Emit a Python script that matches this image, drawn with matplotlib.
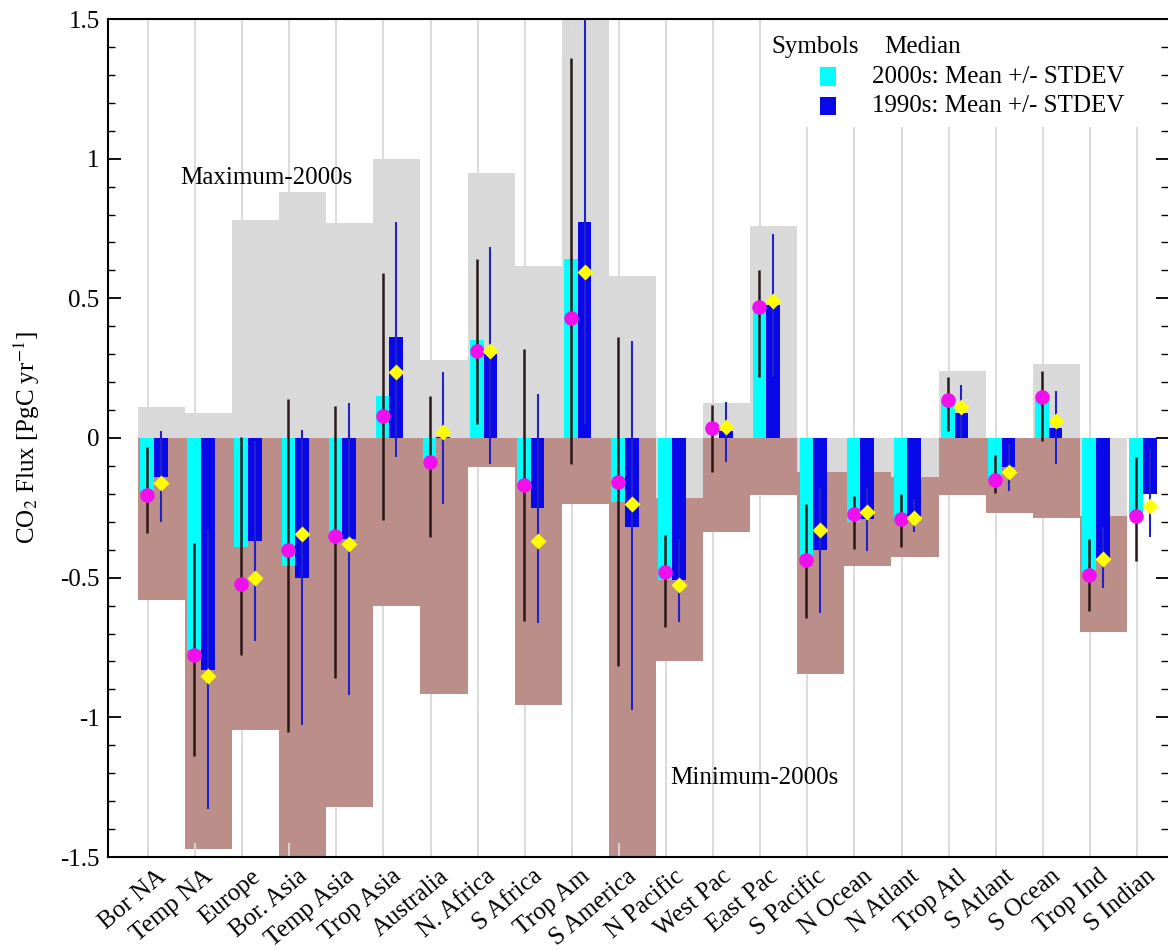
import numpy as np
import matplotlib
matplotlib.use('Agg')
import matplotlib.pyplot as plt
from matplotlib.patches import Rectangle
from matplotlib.ticker import MultipleLocator, FuncFormatter
from matplotlib.transforms import ScaledTranslation

plt.rcParams['font.family'] = ['Liberation Serif', 'DejaVu Serif']
plt.rcParams['mathtext.fontset'] = 'stix'
plt.rcParams['axes.unicode_minus'] = False

categories = ['Bor NA', 'Temp NA', 'Europe', 'Bor. Asia', 'Temp Asia', 'Trop Asia',
              'Australia', 'N. Africa', 'S Africa', 'Trop Am', 'S America', 'N Pacific',
              'West Pac', 'East Pac', 'S Pacific', 'N Ocean', 'N Atlant', 'Trop Atl',
              'S Atlant', 'S Ocean', 'Trop Ind', 'S Indian']

nan = np.nan
max_2000s = [0.11, 0.09, 0.78, 0.88, 0.77, 1.00, 0.28, 0.95, 0.615, 1.60, 0.58, -0.215,
             0.126, 0.76, -0.123, -0.12, -0.14, 0.24, 0.0, 0.265, -0.28, nan]
min_2000s = [-0.58, -1.47, -1.047, -1.60, -1.32, -0.60, -0.915, -0.105, -0.957, -0.237,
             -1.60, -0.80, -0.336, -0.205, -0.844, -0.46, -0.426, -0.203, -0.27, -0.286,
             -0.696, nan]

mean_2000s = [-0.19, -0.76, -0.39, -0.46, -0.36, 0.15, -0.10, 0.35, -0.16, 0.64, -0.23,
              -0.51, 0.0, 0.46, -0.42, -0.30, -0.30, 0.13, -0.145, 0.135, -0.48, -0.28]
mean_1990s = [-0.14, -0.83, -0.37, -0.50, -0.36, 0.36, 0.005, 0.30, -0.25, 0.775, -0.32,
              -0.51, 0.025, 0.475, -0.40, -0.29, -0.28, 0.09, -0.105, 0.037, -0.43, -0.20]

std_lo_2000s = [-0.34, -1.14, -0.776, -1.053, -0.858, -0.295, -0.355, 0.05, -0.656, -0.093,
                -0.815, -0.675, -0.12, 0.22, -0.645, -0.397, -0.391, 0.026, -0.198, -0.01,
                -0.62, -0.441]
std_hi_2000s = [-0.034, -0.376, 0.005, 0.141, 0.115, 0.591, 0.152, 0.642, 0.319, 1.36,
                0.361, -0.349, 0.119, 0.60, -0.237, -0.207, -0.20, 0.217, -0.061, 0.241,
                -0.363, -0.069]
std_lo_1990s = [-0.30, -1.328, -0.727, -1.028, -0.92, -0.068, -0.236, -0.092, -0.661, 0.05,
                -0.975, -0.66, -0.086, 0.22, -0.628, -0.403, -0.335, 0.0, -0.189, -0.093,
                -0.538, -0.356]
std_hi_1990s = [0.025, -0.33, -0.01, 0.029, 0.126, 0.773, 0.236, 0.683, 0.158, 1.495, 0.348,
                -0.36, 0.129, 0.731, -0.18, -0.18, -0.22, 0.19, -0.02, 0.169, -0.32, -0.04]

median_2000s = [-0.204, -0.776, -0.524, -0.40, -0.35, 0.078, -0.085, 0.31, -0.167, 0.43,
                -0.158, -0.478, 0.036, 0.468, -0.438, -0.272, -0.29, 0.136, -0.15, 0.146,
                -0.489, -0.278]
median_1990s = [-0.162, -0.851, -0.50, -0.344, -0.38, 0.236, 0.02, 0.313, -0.367, 0.595,
                -0.238, -0.528, 0.041, 0.489, -0.328, -0.264, -0.288, 0.11, -0.121, 0.062,
                -0.432, -0.242]

W, H = 1168, 949
fig = plt.figure(figsize=(W / 100, H / 100), dpi=100)
ax = fig.add_axes([108 / W, 1 - 857 / H, 1060 / W, 838 / H])

x = np.arange(len(categories))
ax.set_xlim(-0.849, 21.656)
ax.set_ylim(-1.5, 1.5)

for xi in x:
    ax.axvline(xi, color='#dadada', lw=1.4, zorder=0)

ax.bar(x + 0.285, min_2000s, width=1.0, color='#bc8e8a', zorder=1)
ax.bar(x + 0.285, max_2000s, width=1.0, color='#d9d9d9', zorder=1.1)
ax.bar(x - 0.02, mean_2000s, width=0.29, color='#00ffff', zorder=2)
ax.bar(x + 0.27, mean_1990s, width=0.29, color='#0808e8', zorder=2.1)
ax.vlines(x - 0.02, std_lo_2000s, std_hi_2000s, color='#2a1818', lw=1.8, zorder=3)
ax.vlines(x + 0.27, std_lo_1990s, std_hi_1990s, color='#2222cc', lw=1.5, zorder=3)
ax.plot(x - 0.02, median_2000s, 'o', color='#f010ee', ms=10.5, mec='none', zorder=4)
ax.plot(x + 0.27, median_1990s, 'D', color='#ffff00', ms=8.5, mec='none', zorder=4.1)

# axes styling
for side in ['left', 'bottom', 'top']:
    ax.spines[side].set_linewidth(1.5)
    ax.spines[side].set_zorder(5)
ax.spines['right'].set_visible(False)

ax.yaxis.set_major_locator(MultipleLocator(0.5))
ax.yaxis.set_minor_locator(MultipleLocator(0.1))
ax.yaxis.set_major_formatter(FuncFormatter(lambda v, p: f'{v:g}'))
ax.tick_params(axis='y', which='major', direction='in', length=9, width=1.3,
               left=True, right=True, labelsize=18, pad=6)
ax.tick_params(axis='y', which='minor', direction='in', length=5, width=1.0,
               left=True, right=True)

ax.set_xticks(x)
ax.set_xticklabels(categories, rotation=40, ha='right', rotation_mode='anchor', fontsize=18)
ax.tick_params(axis='x', which='major', direction='in', length=10, width=1.3,
               color='#dcdcdc', top=True, bottom=True, pad=6)
for lbl in ax.get_xticklabels():
    lbl.set_transform(lbl.get_transform() + ScaledTranslation(8 / 100, 0, fig.dpi_scale_trans))

ax.set_ylabel('CO$_2$ Flux [PgC yr$^{-1}$]', fontsize=18)
ax.yaxis.set_label_coords(-0.062, 0.5)

# annotations
ax.text(0.068, 0.810, 'Maximum-2000s', transform=ax.transAxes, fontsize=18,
        ha='left', va='center', zorder=6)
ax.text(0.530, 0.094, 'Minimum-2000s', transform=ax.transAxes, fontsize=18,
        ha='left', va='center', zorder=6)

# legend (manual)
ax.add_patch(Rectangle((0.62, 0.871), 0.358, 0.129, transform=ax.transAxes,
                       facecolor='white', edgecolor='none', zorder=4.5))
ax.text(0.626, 0.9666, 'Symbols', transform=ax.transAxes, fontsize=18,
        ha='left', va='center', zorder=6)
ax.text(0.732, 0.9666, 'Median', transform=ax.transAxes, fontsize=18,
        ha='left', va='center', zorder=6)
ax.add_patch(Rectangle((0.6717, 0.920), 0.0151, 0.0227, transform=ax.transAxes,
                       facecolor='#00ffff', edgecolor='none', zorder=6))
ax.add_patch(Rectangle((0.6717, 0.8854), 0.0151, 0.0215, transform=ax.transAxes,
                       facecolor='#0808e8', edgecolor='none', zorder=6))
ax.text(0.7208, 0.9308, '2000s: Mean +/- STDEV', transform=ax.transAxes, fontsize=18,
        ha='left', va='center', zorder=6)
ax.text(0.7208, 0.8962, '1990s: Mean +/- STDEV', transform=ax.transAxes, fontsize=18,
        ha='left', va='center', zorder=6)

fig.savefig('out.png', dpi=100)
